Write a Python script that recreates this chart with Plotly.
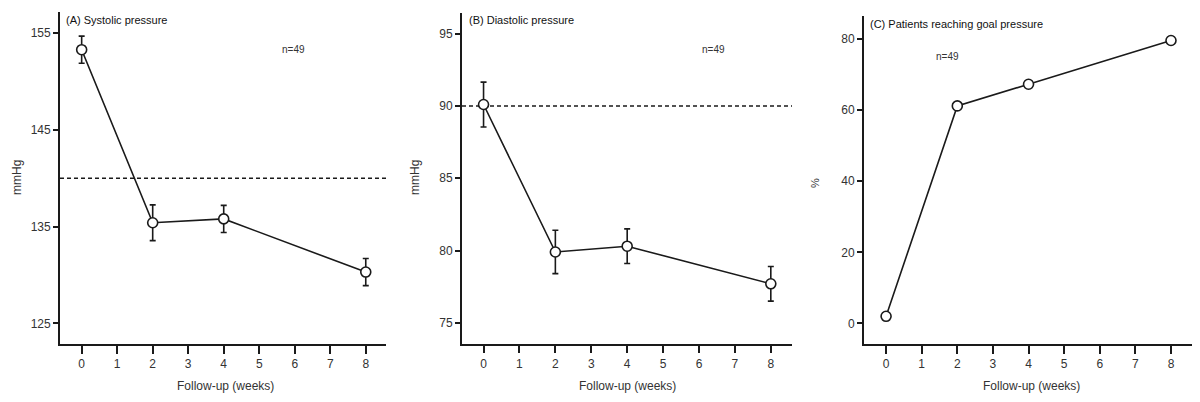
import plotly.graph_objects as go

weeks = [0, 2, 4, 8]
systolic = [153.3, 135.4, 135.8, 130.3]
systolic_err = [1.4, 1.85, 1.4, 1.4]
diastolic = [90.1, 79.9, 80.3, 77.7]
diastolic_err = [1.55, 1.5, 1.2, 1.2]
goal_pct = [2.0, 61.2, 67.3, 79.6]
systolic_goal = 140
diastolic_goal = 90
panel_titles = ["(A) Systolic pressure", "(B) Diastolic pressure", "(C) Patients reaching goal pressure"]
x_ticks = [0, 1, 2, 3, 4, 5, 6, 7, 8]

# page body has an 8px default margin; size the figure so the page is 1200x402
OFF = 8
W, H = 1200 - 2 * OFF, 402 - 2 * OFF
FONT = "Liberation Sans, Arial, sans-serif"
LINE = "#1a1a1a"
TXT = "#333333"

def px(x):
    return (x - OFF) / W

def py(y):
    return 1 - (y - OFF) / H

fig = go.Figure()

marker = dict(size=10, color="white", line=dict(color=LINE, width=1.6), symbol="circle")

fig.add_trace(go.Scatter(x=weeks, y=systolic, mode="lines+markers",
                         line=dict(color=LINE, width=1.6), marker=marker,
                         error_y=dict(type="data", array=systolic_err, color=LINE, thickness=1.6, width=3),
                         xaxis="x", yaxis="y", showlegend=False))
fig.add_trace(go.Scatter(x=weeks, y=diastolic, mode="lines+markers",
                         line=dict(color=LINE, width=1.6), marker=marker,
                         error_y=dict(type="data", array=diastolic_err, color=LINE, thickness=1.6, width=3),
                         xaxis="x2", yaxis="y2", showlegend=False))
fig.add_trace(go.Scatter(x=weeks, y=goal_pct, mode="lines+markers",
                         line=dict(color=LINE, width=1.6), marker=marker,
                         xaxis="x3", yaxis="y3", showlegend=False))

# goal lines
fig.add_shape(type="line", xref="x domain", yref="y", x0=0, x1=1, y0=systolic_goal, y1=systolic_goal,
              line=dict(color=LINE, width=1.5, dash="4px,3px"), layer="below")
fig.add_shape(type="line", xref="x2 domain", yref="y2", x0=0, x1=1, y0=diastolic_goal, y1=diastolic_goal,
              line=dict(color=LINE, width=1.5, dash="4px,3px"), layer="below")

common_x = dict(tickmode="array", tickvals=x_ticks, ticks="outside", ticklen=8, tickwidth=1.5,
                tickcolor=LINE, showline=True, linecolor=LINE, linewidth=1.8, showgrid=False,
                zeroline=False, automargin=False, tickfont=dict(family=FONT, size=12, color=TXT))
common_y = dict(ticks="outside", ticklen=5, tickwidth=1.5, tickcolor=LINE, showline=True,
                linecolor=LINE, linewidth=1.8, showgrid=False, zeroline=False, automargin=False,
                tickfont=dict(family=FONT, size=12, color=TXT))

fig.update_layout(
    width=W, height=H,
    margin=dict(l=0, r=0, t=0, b=0),
    paper_bgcolor="white", plot_bgcolor="white",
    xaxis=dict(common_x, domain=[px(60), px(386)], range=[-0.61, 8.57], anchor="y"),
    yaxis=dict(common_y, domain=[py(344), py(12)], range=[122.86, 157.2], tickvals=[125, 135, 145, 155], anchor="x"),
    xaxis2=dict(common_x, domain=[px(462), px(792)], range=[-0.6, 8.59], anchor="y2"),
    yaxis2=dict(common_y, domain=[py(343.5), py(13)], range=[73.57, 96.43], tickvals=[75, 80, 85, 90, 95], anchor="x2"),
    xaxis3=dict(common_x, domain=[px(864), px(1192)], range=[-0.62, 8.59], anchor="y3"),
    yaxis3=dict(common_y, domain=[py(344), py(16)], range=[-5.8, 86.5], tickvals=[0, 20, 40, 60, 80], anchor="x3"),
)

ann = []
# panel titles
for t, x, y in zip(panel_titles, [64, 467, 868], [20, 20, 24]):
    ann.append(dict(text=t, x=px(x), y=py(y), xref="paper", yref="paper", xanchor="left", yanchor="middle",
                    showarrow=False, font=dict(family=FONT, size=11, color="#111111")))
# n labels
for x, y in zip([293, 713, 947], [50, 49, 56]):
    ann.append(dict(text="n=49", x=px(x), y=py(y), xref="paper", yref="paper", xanchor="center", yanchor="middle",
                    showarrow=False, font=dict(family=FONT, size=10, color=TXT)))
# x titles
for x in [225, 627, 1031]:
    ann.append(dict(text="Follow-up (weeks)", x=px(x), y=py(386), xref="paper", yref="paper", xanchor="center",
                    yanchor="middle", showarrow=False, font=dict(family=FONT, size=12, color=TXT)))
# y titles
for t, x, y, s in [("mmHg", 17, 178, 12), ("mmHg", 415, 178, 12), ("%", 815, 183, 11)]:
    ann.append(dict(text=t, x=px(x), y=py(y), xref="paper", yref="paper", xanchor="center", yanchor="middle",
                    textangle=-90, showarrow=False, borderpad=0, font=dict(family=FONT, size=s, color=TXT)))
fig.update_layout(annotations=ann)

fig.write_html("out.html")
